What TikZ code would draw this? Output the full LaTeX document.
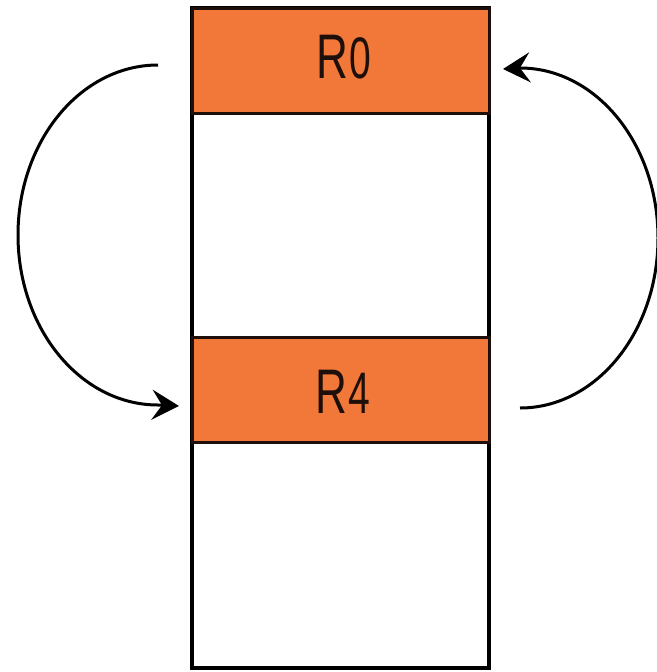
\documentclass[tikz,border=0pt]{standalone}
\usepackage{fontspec}
\setmainfont{Liberation Sans}
\usetikzlibrary{arrows.meta}
\definecolor{regorange}{RGB}{242,120,58}
\definecolor{edgedark}{RGB}{30,15,10}
\tikzset{
  membox/.style={draw=black, line width=3.4pt, fill=white, minimum width=297pt, minimum height=660pt, inner sep=0pt},
  regbox/.style={draw=edgedark, line width=3pt, fill=regorange, minimum width=297pt, minimum height=105pt, inner sep=0pt, text=edgedark},
  regtext/.style={font=\fontsize{63}{70}\selectfont, inner sep=0pt, text=edgedark},
  arr/.style={line width=3pt, -{Stealth[length=27pt,width=30pt,inset=10pt]}}
}
\newcommand{\regname}[1]{\scalebox{0.7}[1]{R}\kern1pt\scalebox{0.62}[0.93]{#1}}
\begin{document}
\begin{tikzpicture}[x=1pt,y=-1pt]
\useasboundingbox (0,0) rectangle (656,672);
\node[membox] (mem) at (340.5,338) {};
\node[regbox] (r0) at (340.5,60.5) {};
\node[regbox] (r4) at (340.5,389.5) {};
\node[regtext, anchor=base] (t0) at (344,78) {\regname{0}};
\node[regtext, anchor=base] (t4) at (343,413) {\regname{4}};
\coordinate (ls) at (158,65);
\coordinate (le) at (179,406);
\coordinate (rs) at (520,408);
\coordinate (re) at (503,69);
\draw[arr] (ls) arc[start angle=-90, end angle=-270, x radius=140, y radius=170] -- (le);
\draw[arr] (rs) arc[start angle=90, end angle=-90, x radius=138, y radius=170] -- (re);
\end{tikzpicture}
\end{document}
